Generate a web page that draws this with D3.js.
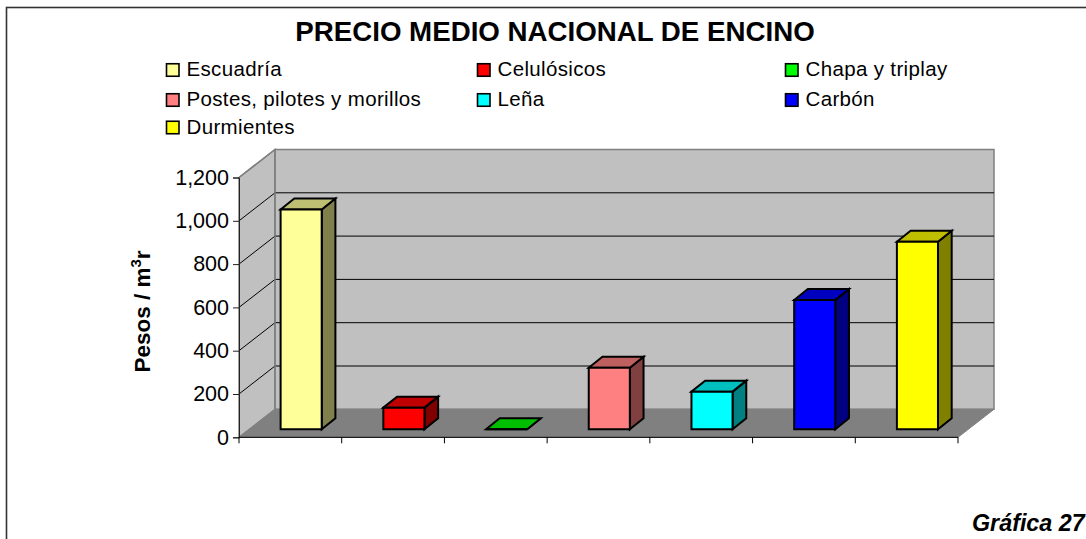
<!DOCTYPE html>
<html><head><meta charset="utf-8">
<script src="https://cdn.jsdelivr.net/npm/d3@7/dist/d3.min.js"></script>
<style>html,body{margin:0;padding:0;background:#fff}svg{display:block}text{font-family:"Liberation Sans",Arial,sans-serif;fill:#000}</style>
</head><body><script>
const categories=["Escuadría","Celulósicos","Chapa y triplay","Postes, pilotes y morillos","Leña","Carbón","Durmientes"];
const values=[1015,100,0,284,174,597,866];
const colors=["#ffff99","#ff0000","#00ff00","#ff8080","#00ffff","#0000ff","#ffff00"];
const tickValues=[0,200,400,600,800,1000,1200];
const titleText="PRECIO MEDIO NACIONAL DE ENCINO";
const yLabel="Pesos / m";
const footer="Gráfica 27";

const W=1086,H=539;
const svg=d3.select("body").append("svg").attr("width",W).attr("height",H);
const x0=239,x1=958,y0=437.3,yT=177.5,depthX=36,depthY=28;
const y=d3.scaleLinear().domain([0,1200]).range([y0,yT]);
const x=d3.scaleBand().domain(categories).range([x0,x1]).paddingInner(0.6).paddingOuter(0.3);
const poly=p=>p.map(d=>d.join(",")).join(" ");

svg.append("rect").attr("x",6.5).attr("y",7.5).attr("width",1100).attr("height",560).attr("fill","#fff").attr("stroke","#333").attr("stroke-width",1.6);

// walls
svg.append("polygon").attr("points",poly([[x0,y0],[x0+depthX,y0-depthY],[x0+depthX,yT-depthY],[x0,yT]])).attr("fill","#c0c0c0").attr("stroke","#808080").attr("stroke-width",1.5);
svg.append("polygon").attr("points",poly([[x0+depthX,y0-depthY],[x1+depthX,y0-depthY],[x1+depthX,yT-depthY],[x0+depthX,yT-depthY]])).attr("fill","#c0c0c0").attr("stroke","#808080").attr("stroke-width",1.5);
svg.append("polygon").attr("points",poly([[x0,y0],[x0+depthX,y0-depthY],[x1+depthX,y0-depthY],[x1,y0]])).attr("fill","#808080").attr("stroke","#808080");

// grid
tickValues.slice(1,-1).forEach(t=>{
  svg.append("polyline").attr("points",poly([[x0,y(t)],[x0+depthX,y(t)-depthY],[x1+depthX,y(t)-depthY]])).attr("fill","none").attr("stroke","#000").attr("stroke-width",1);
});
svg.append("polyline").attr("points",poly([[x0,yT],[x0+depthX,yT-depthY]])).attr("fill","none").attr("stroke","#808080").attr("stroke-width",1.5);
svg.append("line").attr("x1",x0+depthX).attr("x2",x0+depthX).attr("y1",yT-depthY).attr("y2",y0-depthY).attr("stroke","#808080").attr("stroke-width",1.5);

// axes
const yAxis=d3.axisLeft(y).tickValues(tickValues).tickSize(6).tickPadding(4).tickFormat(d3.format(","));
const gy=svg.append("g").attr("transform",`translate(${x0},0)`).call(yAxis);
gy.selectAll("text").style("font-size","21.5px").style("font-family",'"Liberation Sans",Arial,sans-serif');
gy.selectAll("line,path").attr("stroke","#222");
const xTickPos=d3.range(categories.length+1).map(i=>x0+(x1-x0)*i/categories.length);
svg.append("line").attr("x1",x0).attr("x2",x1).attr("y1",y0).attr("y2",y0).attr("stroke","#000").attr("stroke-width",1);
svg.selectAll(".xt").data(xTickPos).enter().append("line").attr("x1",d=>d).attr("x2",d=>d).attr("y1",y0).attr("y2",y0+6).attr("stroke","#000");

// bars
const ox=10.8,oy=8,dx=13.7,dy=11;
const shade=(c,k)=>{const r=d3.rgb(c);return d3.rgb(r.r*k,r.g*k,r.b*k).formatHex();};
const bars=svg.selectAll(".bar").data(categories.map((c,i)=>({c,v:values[i],col:colors[i]}))).enter().append("g");
bars.each(function(d){
  const g=d3.select(this);
  const l=x(d.c)+ox,r=l+x.bandwidth(),b=y0-oy,t=y(d.v)-oy;
  const st={stroke:"#000","stroke-width":2,"stroke-linejoin":"miter"};
  const add=(pts,f)=>{const p=g.append("polygon").attr("points",poly(pts)).attr("fill",f);Object.entries(st).forEach(([k,v])=>p.attr(k,v));};
  add([[r,b],[r+dx,b-dy],[r+dx,t-dy],[r,t]],shade(d.col,0.5));
  add([[l,t],[l+dx,t-dy],[r+dx,t-dy],[r,t]],shade(d.col,0.75));
  add([[l,b],[r,b],[r,t],[l,t]],d.col);
});

// title
svg.append("text").attr("x",555).attr("y",41).attr("text-anchor","middle").style("font-size","27.7px").style("font-weight","bold").text(titleText);

// legend
const legX=[166,477,785],legY=[70,100,127.5];
categories.forEach((c,i)=>{
  const cx=legX[i%3],cy=legY[Math.floor(i/3)];
  svg.append("rect").attr("x",cx+0.5).attr("y",cy-6.25).attr("width",12.5).attr("height",12.5).attr("fill",colors[i]).attr("stroke","#000").attr("stroke-width",1.6);
  svg.append("text").attr("x",cx+20.5).attr("y",cy+6.4).style("font-size","20.5px").style("letter-spacing","0.35px").text(c);
});

// y label
const yl=svg.append("text").attr("transform","translate(149.5,311.5) rotate(-90)").attr("text-anchor","middle").style("font-size","22.5px").style("font-weight","bold").text(yLabel);
yl.append("tspan").attr("dy",-9).style("font-size","15px").text("3");
yl.append("tspan").attr("dy",9).text("r");

svg.append("text").attr("x",972).attr("y",531).style("font-size","23.3px").style("font-weight","bold").style("font-style","italic").text(footer);
</script></body></html>
